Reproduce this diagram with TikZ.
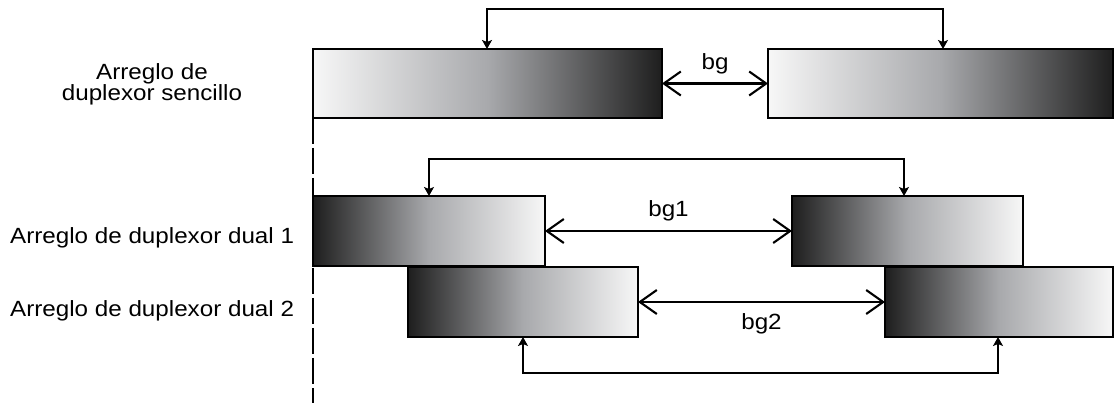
\documentclass[tikz,border=0pt]{standalone}
\usepackage{fontspec}
\setmainfont{Liberation Sans}[FakeStretch=1.1]
\usetikzlibrary{arrows.meta}

\definecolor{grisclaro}{HTML}{F7F7F7}
\definecolor{grismedio}{HTML}{A8A9AC}
\definecolor{grisoscuro}{HTML}{1E1E1E}

\begin{document}
\begin{tikzpicture}[x=1pt,y=-1pt,
    bloque/.style={draw, line width=1.6pt, inner sep=0pt, outer sep=0pt,
      anchor=north west, minimum height=\alto pt},
    claro/.style={left color=grisclaro, right color=grisoscuro, middle color=grismedio},
    oscuro/.style={left color=grisoscuro, right color=grisclaro, middle color=grismedio},
    enlace/.style={line width=1.3pt,
      {Stealth[length=9pt,width=10pt,inset=2pt]}-{Stealth[length=9pt,width=10pt,inset=2pt]}},
    banda/.style={line width=2.1pt,
      {Straight Barb[length=17pt,width=24pt]}-{Straight Barb[length=17pt,width=24pt]}},
    guia/.style={line width=1.4pt, dash pattern=on 26pt off 4pt},
    etiqueta/.style={font=\fontsize{22}{21}\selectfont, inner sep=0pt}]

    % Parámetros
    \def\alto{69} % altura de cada bloque
    \useasboundingbox (0,0) rectangle (1114,403);

    % Duplexor sencillo
    \node[bloque, claro, minimum width=349pt] (s1) at (313,49) {};
    \node[bloque, claro, minimum width=345pt] (s2) at (768,49) {};

    % Duplexor dual (dos filas desplazadas)
    \node[bloque, oscuro, minimum width=232pt, minimum height=70pt] (d1a) at (313,196) {};
    \node[bloque, oscuro, minimum width=231pt, minimum height=70pt] (d1b) at (792,196) {};
    \node[bloque, oscuro, minimum width=230pt, minimum height=70pt] (d2a) at (408,267) {};
    \node[bloque, oscuro, minimum width=228pt, minimum height=70pt] (d2b) at (885,267) {};

    % Línea guía
    \draw[guia] (s1.south west) -- ++(0,285);

    % Enlaces entre bloques
    \draw[enlace] ([xshift=174pt]s1.north west) -- ++(0,-40) -| ([xshift=175pt]s2.north west);
    \draw[enlace] ([xshift=116pt]d1a.north west) -- ++(0,-37) -| ([xshift=112pt]d1b.north west);
    \draw[enlace] ([xshift=115pt]d2a.south west) -- ++(0,36) -| ([xshift=113pt]d2b.south west);

    % Bandas de guarda
    \draw[banda] (s1.east) -- (s2.west)
      node[etiqueta, midway, anchor=base, yshift=13.5pt] (bg) {bg};
    \draw[banda] (d1a.east) -- (d1b.west)
      node[etiqueta, midway, anchor=base, yshift=14pt] (bg1) {bg1};
    \draw[banda] (d2a.east) -- (d2b.west)
      node[etiqueta, midway, anchor=base, yshift=-28pt] (bg2) {bg2};

    % Etiquetas
    \node[etiqueta, align=center] (etqS) at (152,84) {Arreglo de\\duplexor sencillo};
    \node[etiqueta, anchor=base west] (etqD1) at (10,244) {Arreglo de duplexor dual 1};
    \node[etiqueta, anchor=base west] (etqD2) at (10,317) {Arreglo de duplexor dual 2};
\end{tikzpicture}
\end{document}
